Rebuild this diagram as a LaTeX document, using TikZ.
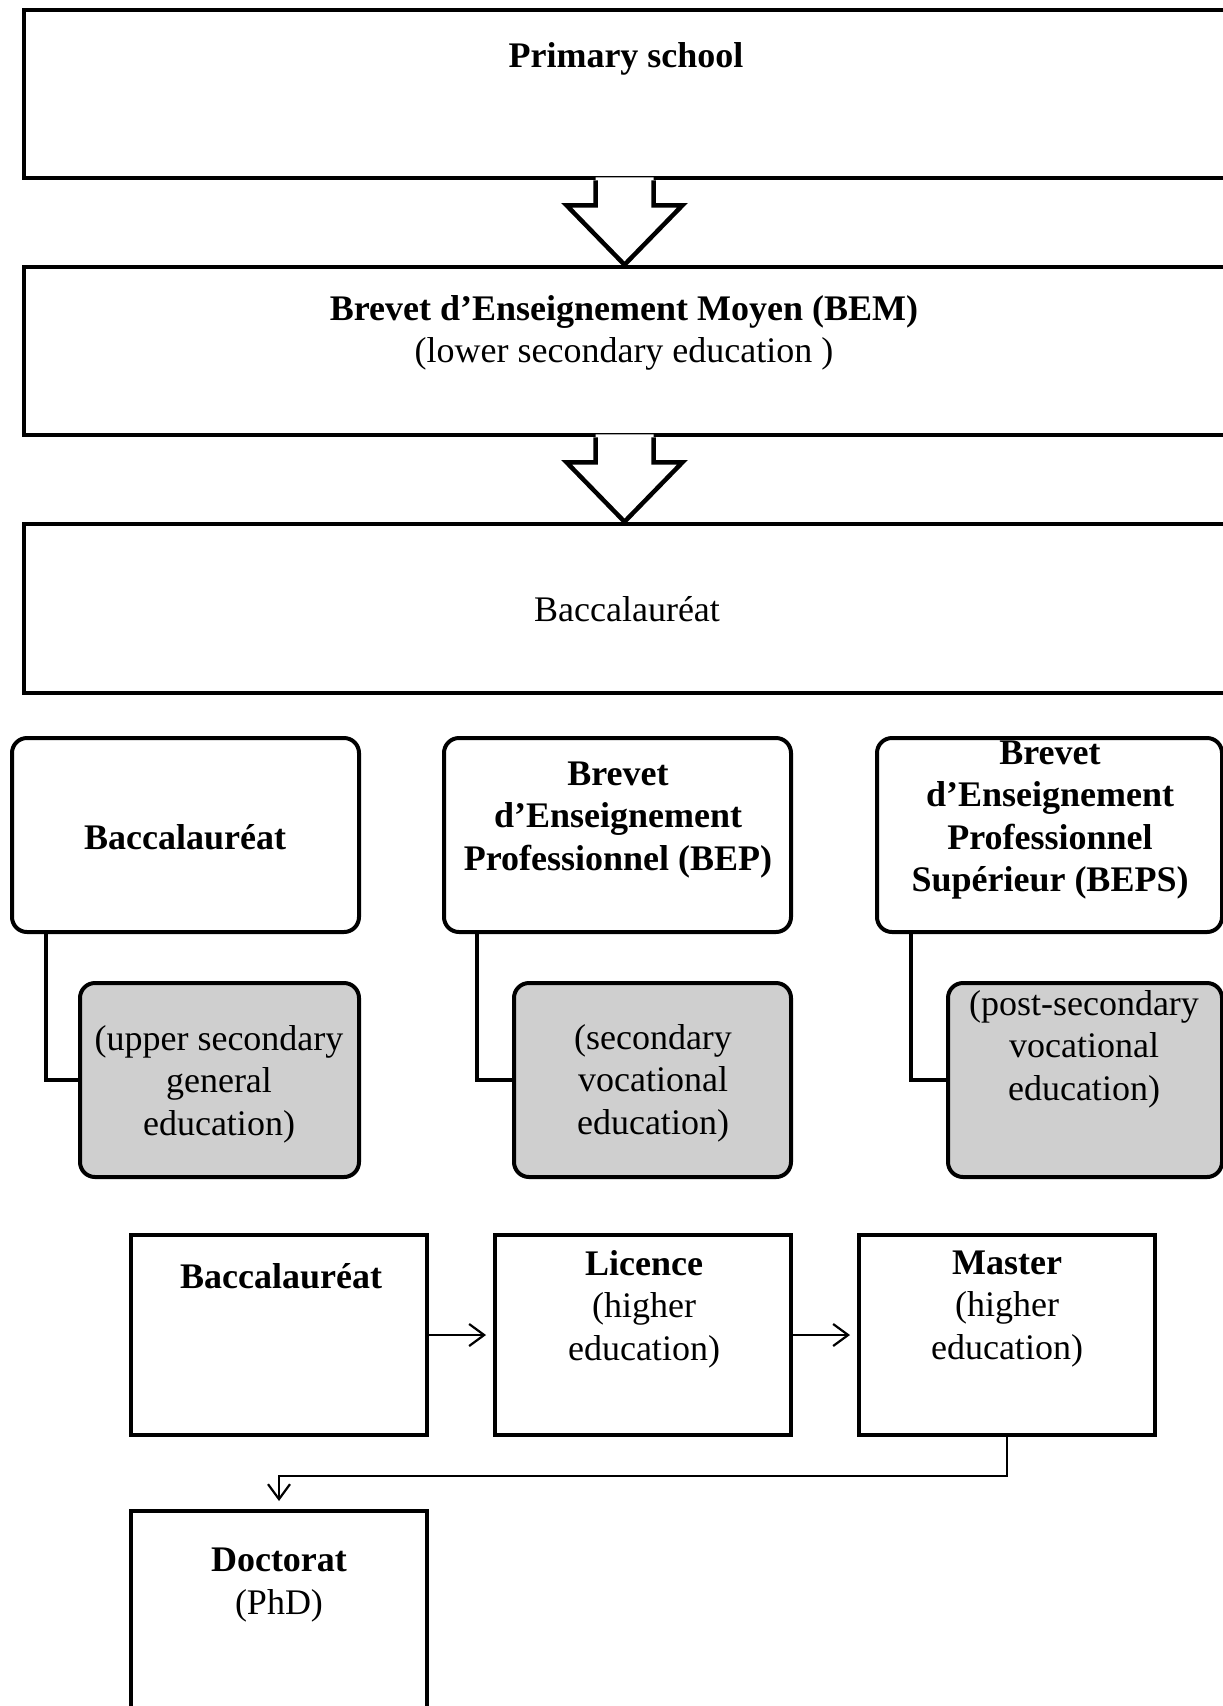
\documentclass[tikz,border=0pt]{standalone}
\usepackage{fontspec}
\setmainfont{Liberation Serif}
\usetikzlibrary{calc,arrows.meta}
\definecolor{boxgray}{RGB}{207,207,207}
\tikzset{
  bigbox/.style={draw=black, line width=4.5pt, fill=white, rectangle, inner sep=0pt},
  roundbox/.style={draw=black, line width=4pt, fill=white, rectangle, rounded corners=15pt, inner sep=0pt, minimum height=194pt},
  graybox/.style={roundbox, fill=boxgray},
  stepbox/.style={draw=black, line width=4pt, fill=white, rectangle, inner sep=0pt, minimum width=296pt, minimum height=200pt},
  txt/.style={inner sep=0pt, align=center},
  conn/.style={draw=black, line width=4pt},
  blockarrow/.style={draw=black, line width=4.5pt, line join=miter},
  thinarrow/.style={draw=black, line width=2.2pt, -{Straight Barb[length=15pt,width=22pt]}},
}
\begin{document}
\begin{tikzpicture}[x=1pt, y=-1pt, font=\fontsize{36}{42.6}\selectfont]
\useasboundingbox (0,0) rectangle (1223,1706);
\clip (0,0) rectangle (1223,1706);
\fill[white] (0,0) rectangle (1223,1706);

% top stacked boxes
\node[bigbox, minimum width=1201pt, minimum height=168pt] (prim) at (624.5,94) {};
\node[bigbox, minimum width=1201pt, minimum height=168pt] (bem) at (624.5,351) {};
\node[bigbox, minimum width=1201pt, minimum height=169pt] (bactop) at (624.5,608.5) {};

\node[txt, anchor=base] (tprim) at (626,67) {\textbf{Primary school}};
\node[txt] (tbem) at (624,333) {\textbf{Brevet d’Enseignement Moyen (BEM)}\\(lower secondary education )};
\node[txt, anchor=base] (tbactop) at (627,621) {Baccalauréat};

% block arrows
\coordinate (p1) at (prim.south);
\fill[white] ($(p1)+(-29,-3)$) -- ($(p1)+(-29,25)$) -- ($(p1)+(-58,25)$) -- (bem.north) -- ($(p1)+(58,25)$) -- ($(p1)+(29,25)$) -- ($(p1)+(29,-3)$) -- cycle;
\draw[blockarrow] ($(p1)+(-29,0)$) -- ($(p1)+(-29,25)$) -- ($(p1)+(-58,25)$) -- (bem.north) -- ($(p1)+(58,25)$) -- ($(p1)+(29,25)$) -- ($(p1)+(29,0)$);

\coordinate (p2) at (bem.south);
\fill[white] ($(p2)+(-29,-3)$) -- ($(p2)+(-29,25)$) -- ($(p2)+(-58,25)$) -- (bactop.north) -- ($(p2)+(58,25)$) -- ($(p2)+(29,25)$) -- ($(p2)+(29,-3)$) -- cycle;
\draw[blockarrow] ($(p2)+(-29,0)$) -- ($(p2)+(-29,25)$) -- ($(p2)+(-58,25)$) -- (bactop.north) -- ($(p2)+(58,25)$) -- ($(p2)+(29,25)$) -- ($(p2)+(29,0)$);

% second row: rounded boxes
\node[roundbox, minimum width=347pt] (ba) at (185.5,835) {};
\node[roundbox, minimum width=347pt] (bb) at (617.5,835) {};
\node[roundbox, minimum width=345pt] (bc) at (1049.5,835) {};

\node[graybox, minimum width=279pt] (ga) at (219.5,1080) {};
\node[graybox, minimum width=277pt] (gb) at (652.5,1080) {};
\node[graybox, minimum width=274pt] (gc) at (1085,1080) {};

\draw[conn] ($(ba.south west)+(36,0)$) |- (ga.west);
\draw[conn] ($(bb.south west)+(35,0)$) |- (gb.west);
\draw[conn] ($(bc.south west)+(36,0)$) |- (gc.west);

\node[txt, anchor=base] (tba) at (185,849) {\textbf{Baccalauréat}};
\node[txt] (tbb) at (618,820) {\textbf{Brevet}\\\textbf{d’Enseignement}\\\textbf{Professionnel (BEP)}};
\node[txt] (tbc) at (1050,820) {\textbf{Brevet}\\\textbf{d’Enseignement}\\\textbf{Professionnel}\\\textbf{Supérieur (BEPS)}};

\node[txt] (tga) at (219,1084) {(upper secondary\\general\\education)};
\node[txt] (tgb) at (653,1083) {(secondary\\vocational\\education)};
\node[txt] (tgc) at (1084,1049) {(post-secondary\\vocational\\education)};

% third row
\node[stepbox] (bac3) at (279,1335) {};
\node[stepbox] (lic) at (643,1335) {};
\node[stepbox] (mast) at (1007,1335) {};
\node[stepbox, minimum height=212pt] (doc) at (279,1617) {};

\node[txt, anchor=base] (tbac3) at (281,1288) {\textbf{Baccalauréat}};
\node[txt] (tlic) at (644,1309) {\textbf{Licence}\\(higher\\education)};
\node[txt] (tmast) at (1007,1309) {\textbf{Master}\\(higher\\education)};
\node[txt] (tdoc) at (279,1585) {\textbf{Doctorat}\\(PhD)};

\draw[thinarrow, shorten >=7pt] (bac3.east) -- (lic.west);
\draw[thinarrow, shorten >=7pt] (lic.east) -- (mast.west);
\draw[thinarrow, shorten >=8pt] (mast.south) -- ++(0,39) -| (doc.north);
\end{tikzpicture}
\end{document}
